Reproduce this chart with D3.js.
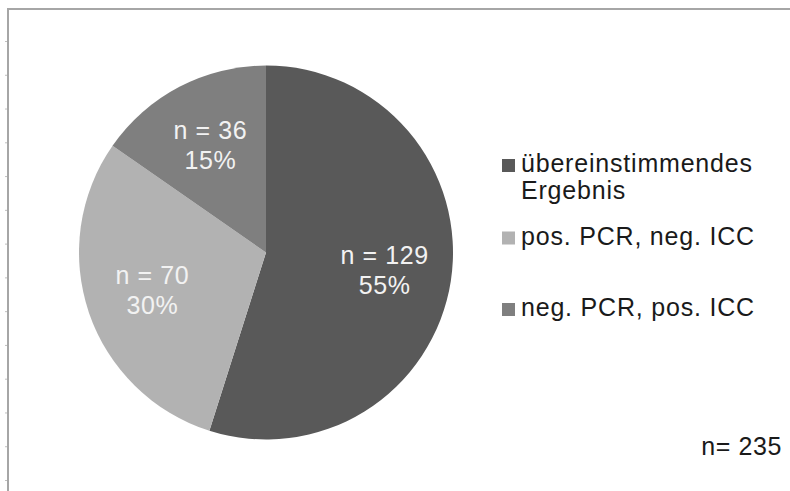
<!DOCTYPE html>
<html>
<head>
<meta charset="utf-8">
<script src="https://cdn.jsdelivr.net/npm/d3@7"></script>
<style>
  html, body { margin: 0; padding: 0; background: #fff; }
  svg text { font-family: "Liberation Sans", Arial, sans-serif; }
</style>
</head>
<body>
<div id="chart"></div>
<script>
// data
const categories = ['übereinstimmendes Ergebnis', 'pos. PCR, neg. ICC', 'neg. PCR, pos. ICC'];
const legendLines = [['übereinstimmendes', 'Ergebnis'], ['pos. PCR, neg. ICC'], ['neg. PCR, pos. ICC']];
const counts = [129, 70, 36];
const percents = ['55%', '30%', '15%'];
const total = 235;

const width = 790, height = 491;
const cx = 266, cy = 252.5, radius = 187;

const svg = d3.select('#chart')
  .append('svg')
    .attr('width', width)
    .attr('height', height);

// frame lines (top and left) with the faint tick marks
svg.append('line')
  .attr('x1', 8).attr('x2', width)
  .attr('y1', 9).attr('y2', 9)
  .attr('stroke', '#a6a6a6')
  .attr('stroke-width', 2);

const tickScale = d3.scaleLinear().domain([0, 13]).range([41, 480]);
const leftAxis = d3.axisLeft(tickScale)
  .tickValues(d3.range(0, 14))
  .tickSize(3)
  .tickFormat('');

svg.append('g')
  .attr('transform', 'translate(8,0)')
  .call(leftAxis)
  .call(g => g.select('.domain').remove())
  .call(g => g.selectAll('.tick line').attr('stroke', '#bfbfbf'));

svg.append('line')
  .attr('x1', 8).attr('x2', 8)
  .attr('y1', 8).attr('y2', height)
  .attr('stroke', '#a6a6a6')
  .attr('stroke-width', 2);

const color = d3.scaleOrdinal()
  .domain(categories)
  .range(['#595959', '#b2b2b2', '#7f7f7f']);

const pie = d3.pie().sort(null).value(d => d.count);
const slices = pie(categories.map((c, i) => ({ cat: c, count: counts[i], pct: percents[i] })));

const arc = d3.arc().innerRadius(0).outerRadius(radius);
const labelArc = d3.arc().innerRadius(120).outerRadius(120);

const pieGroup = svg.append('g')
  .attr('transform', 'translate(' + cx + ',' + cy + ')');

pieGroup.selectAll('path.slice')
  .data(slices)
  .enter()
  .append('path')
    .attr('class', 'slice')
    .attr('d', arc)
    .attr('fill', d => color(d.data.cat));

const labels = pieGroup.selectAll('text.label')
  .data(slices)
  .enter()
  .append('text')
    .attr('class', 'label')
    .attr('transform', d => 'translate(' + labelArc.centroid(d) + ')')
    .attr('text-anchor', 'middle')
    .attr('font-size', '25px')
    .attr('letter-spacing', '0.6px')
    .attr('fill', '#f2f2f2');

labels.append('tspan')
  .attr('x', 0).attr('y', -7)
  .text(d => 'n = ' + d.data.count);
labels.append('tspan')
  .attr('x', 0).attr('y', 23)
  .text(d => d.data.pct);

// legend
const legendY = [172, 244.5, 316];
const legend = svg.append('g');

categories.forEach((c, i) => {
  const g = legend.append('g').attr('transform', 'translate(502,' + legendY[i] + ')');
  g.append('rect')
    .attr('x', 0).attr('y', -13)
    .attr('width', 13).attr('height', 13)
    .attr('fill', color(c));
  const t = g.append('text')
    .attr('font-size', '25px')
    .attr('letter-spacing', '0.8px')
    .attr('fill', '#1a1a1a');
  legendLines[i].forEach((line, j) => {
    t.append('tspan')
      .attr('x', 19)
      .attr('y', j * 26.6)
      .text(line);
  });
});

svg.append('text')
  .attr('x', 782)
  .attr('y', 455)
  .attr('text-anchor', 'end')
  .attr('font-size', '25px')
  .attr('letter-spacing', '0.6px')
  .attr('fill', '#1a1a1a')
  .text('n= ' + total);
</script>
</body>
</html>
